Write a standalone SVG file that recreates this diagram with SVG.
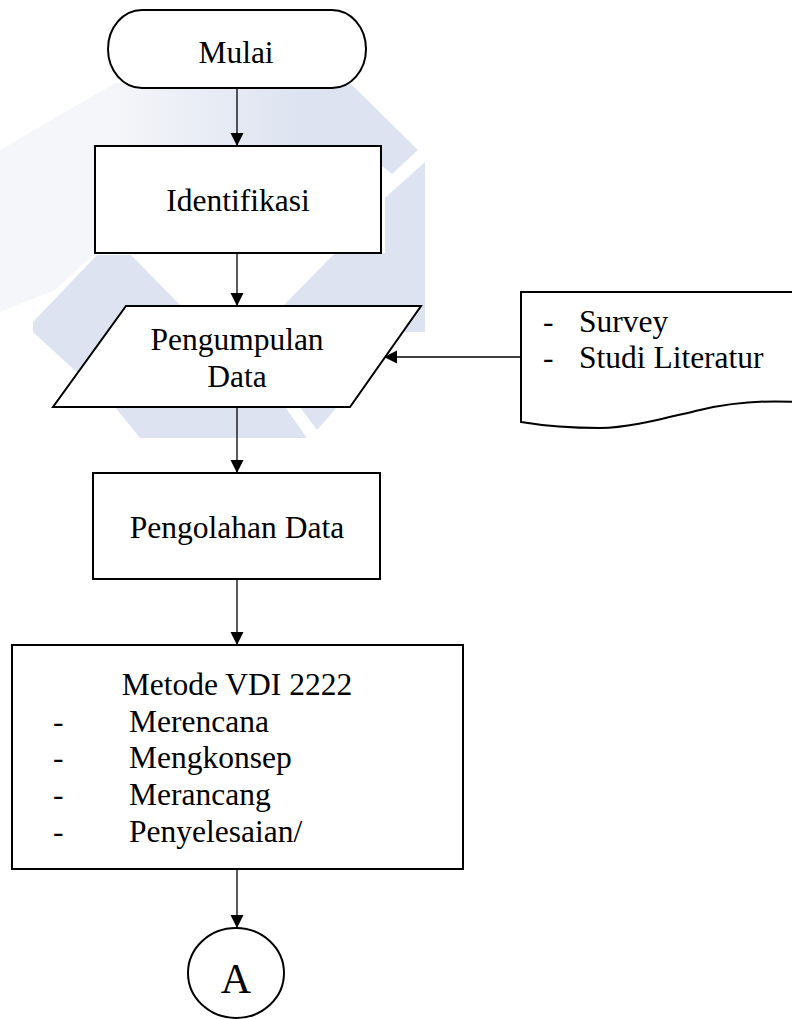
<svg xmlns="http://www.w3.org/2000/svg" width="792" height="1019" viewBox="0 0 792 1019">
  <style>
    .shape { fill: #ffffff; stroke: #000000; stroke-width: 2; }
    .conn { stroke: #000000; stroke-width: 1.3; fill: none; marker-end: url(#arrow); }
    .txt { font-family: "Liberation Serif", "Times New Roman", serif; font-size: 31.5px; fill: #000000; }
    .mid { text-anchor: middle; }
    .wm { fill: #dde3f1; }
    .wmf { fill: #f5f6f9; }
  </style>
  <defs>
    <marker id="arrow" markerUnits="userSpaceOnUse" markerWidth="14" markerHeight="14" refX="13" refY="6.5" orient="auto">
      <path d="M0,0 L13,6.5 L0,13 Z" fill="#000000"/>
    </marker>
    <linearGradient id="fadeTop" x1="110" y1="0" x2="300" y2="0" gradientUnits="userSpaceOnUse">
      <stop offset="0" stop-color="#f5f6f9"/>
      <stop offset="1" stop-color="#dde3f1"/>
    </linearGradient>
  </defs>

  <rect width="792" height="1019" fill="#ffffff"/>

  <g id="watermark">
    <polygon class="wmf" points="0,150 115,83 175,83 175,146 95,146 95,253 55,290 0,312"/>
    <polygon fill="url(#fadeTop)" points="115,83 350,83 418,150 392,174 357,146 95,146"/>
    <polygon class="wm" points="385,198 425,162 425,332 385,332"/>
    <polygon class="wm" points="283,306 335,253 385,253 385,306"/>
    <polygon class="wm" points="33,322 97,255 131,255 185,310 115,407 33,332"/>
    <polygon class="wm" points="115,407 285,407 307,438 140,438"/>
    <polygon class="wm" points="300,407 337,407 317,430"/>
  </g>

  <g id="connectors">
    <line class="conn" x1="237" y1="88" x2="237" y2="146"/>
    <line class="conn" x1="237" y1="253" x2="237" y2="306"/>
    <line class="conn" x1="237" y1="407" x2="237" y2="473"/>
    <line class="conn" x1="237" y1="579" x2="237" y2="645"/>
    <line class="conn" x1="237" y1="869" x2="237" y2="928"/>
    <line class="conn" x1="521" y1="357" x2="384" y2="357"/>
  </g>

  <g id="node-mulai">
    <rect class="shape" x="108" y="10" width="258" height="78" rx="34" ry="39"/>
    <text class="txt mid" x="236" y="63">Mulai</text>
  </g>

  <g id="node-identifikasi">
    <rect class="shape" x="95" y="146" width="286" height="107"/>
    <text class="txt mid" x="238" y="211">Identifikasi</text>
  </g>

  <g id="node-pengumpulan">
    <polygon class="shape" points="126,306 421,306 350,407 53,407"/>
    <text class="txt mid" x="237" y="350">Pengumpulan</text>
    <text class="txt mid" x="237" y="387">Data</text>
  </g>

  <g id="node-sumber">
    <path class="shape" d="M521,292 H795 V402 C760,400 730,403 700,410 C665,418 630,428 600,428 C570,428 545,426 521,422 Z"/>
    <text class="txt" x="543" y="332">-</text>
    <text class="txt" x="579" y="332">Survey</text>
    <text class="txt" x="543" y="368">-</text>
    <text class="txt" x="579" y="368">Studi Literatur</text>
  </g>

  <g id="node-pengolahan">
    <rect class="shape" x="93" y="473" width="287" height="106"/>
    <text class="txt mid" x="237" y="538">Pengolahan Data</text>
  </g>

  <g id="node-metode">
    <rect class="shape" x="12" y="645" width="451" height="224"/>
    <text class="txt mid" x="237" y="695">Metode VDI 2222</text>
    <text class="txt" x="53" y="732">-</text>
    <text class="txt" x="129" y="732">Merencana</text>
    <text class="txt" x="53" y="768">-</text>
    <text class="txt" x="129" y="768">Mengkonsep</text>
    <text class="txt" x="53" y="805">-</text>
    <text class="txt" x="129" y="805">Merancang</text>
    <text class="txt" x="53" y="842">-</text>
    <text class="txt" x="129" y="842">Penyelesaian/</text>
  </g>

  <g id="node-a">
    <ellipse class="shape" cx="236" cy="973" rx="48" ry="45"/>
    <text class="txt mid" x="236" y="993" style="font-size:42px">A</text>
  </g>
</svg>
